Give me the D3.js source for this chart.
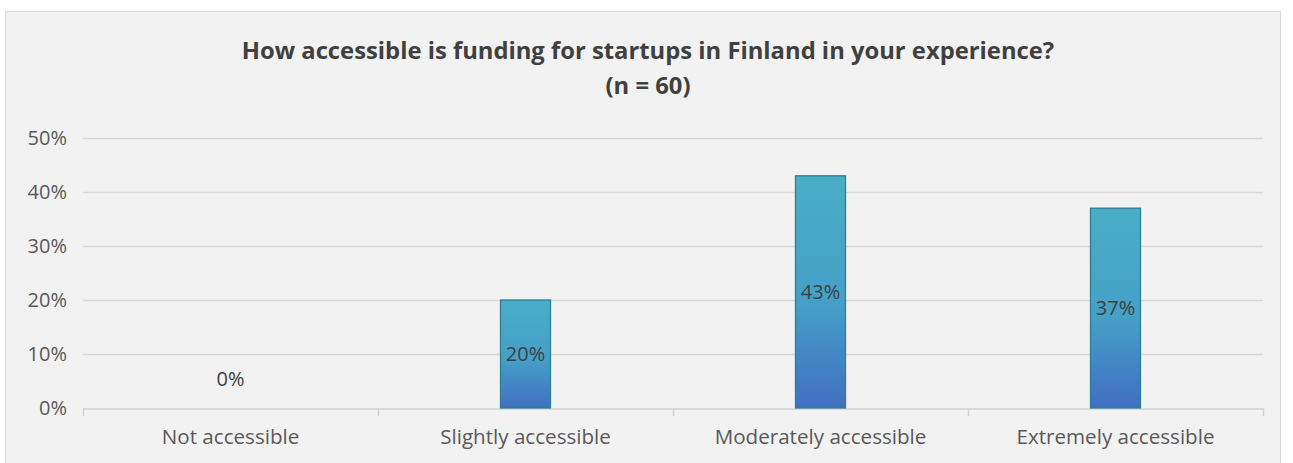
<!DOCTYPE html>
<html>
<head>
<meta charset="utf-8">
<script src="https://cdn.jsdelivr.net/npm/d3@7"></script>
<style>
	body { margin: 0; background: #fff; }
	svg text { font-family: "Open Sans", "Noto Sans", sans-serif; }
</style>
</head>
<body>
<svg id="chart" width="1293" height="463"></svg>
<script>
const categories = ['Not accessible', 'Slightly accessible', 'Moderately accessible', 'Extremely accessible'];
const values = [0, 20, 43, 37];
const yTicks = [0, 10, 20, 30, 40, 50];
const titleLines = ['How accessible is funding for startups in Finland in your experience?', '(n = 60)'];

const svg = d3.select('#chart');

// chart frame
svg.append('rect')
	.attr('x', 5.5).attr('y', 11.5)
	.attr('width', 1275).attr('height', 470)
	.attr('fill', '#f2f2f2')
	.attr('stroke', '#d9d9d9');

const plotLeft = 83, plotRight = 1263, plotTop = 138, plotBottom = 408;

const x = d3.scaleBand().domain(categories).range([plotLeft, plotRight]);
const y = d3.scaleLinear().domain([0, 50]).range([plotBottom, plotTop]);

const defs = svg.append('defs');
const grad = defs.append('linearGradient')
	.attr('id', 'barGrad')
	.attr('x1', 0).attr('y1', 0).attr('x2', 0).attr('y2', 1);
grad.append('stop').attr('offset', '0%').attr('stop-color', '#4aaec7');
grad.append('stop').attr('offset', '55%').attr('stop-color', '#459fc6');
grad.append('stop').attr('offset', '100%').attr('stop-color', '#416fc3');

// title
svg.append('g')
	.selectAll('text')
	.data(titleLines)
	.enter()
	.append('text')
	.attr('x', 648)
	.attr('y', (d, i) => 59 + i * 35)
	.attr('text-anchor', 'middle')
	.attr('font-size', 23.8)
	.attr('font-weight', 'bold')
	.attr('fill', '#404040')
	.text(d => d);

// gridlines
svg.append('g')
	.selectAll('line')
	.data(yTicks.filter(t => t > 0))
	.enter()
	.append('line')
	.attr('x1', plotLeft).attr('x2', plotRight)
	.attr('y1', d => Math.round(y(d)) + 0.5)
	.attr('y2', d => Math.round(y(d)) + 0.5)
	.attr('stroke', '#d9d9d9')
	.attr('stroke-width', 1.3);

// y axis labels
const yAxis = svg.append('g')
	.attr('transform', `translate(${plotLeft},0)`)
	.call(d3.axisLeft(y).tickValues(yTicks).tickFormat(d => d + '%').tickSize(0).tickPadding(16));
yAxis.select('.domain').remove();
yAxis.selectAll('text')
	.attr('font-family', '"Open Sans", sans-serif')
	.attr('font-size', 20)
	.attr('fill', '#595959');

// x axis
const xAxis = svg.append('g')
	.attr('transform', `translate(0,${plotBottom + 0.5})`)
	.call(d3.axisBottom(x).tickSize(0).tickPadding(21));
xAxis.select('.domain').attr('stroke', '#d0d0d0').attr('stroke-width', 1.5);
xAxis.selectAll('text')
	.attr('font-family', '"Open Sans", sans-serif')
	.attr('font-size', 20.6)
	.attr('fill', '#595959');

// category separator ticks
const bounds = categories.map(c => x(c)).concat([x.range()[1]]);
svg.append('g')
	.selectAll('line')
	.data(bounds)
	.enter()
	.append('line')
	.attr('x1', d => Math.round(d) + 0.5).attr('x2', d => Math.round(d) + 0.5)
	.attr('y1', plotBottom).attr('y2', plotBottom + 8)
	.attr('stroke', '#d0d0d0')
	.attr('stroke-width', 1.5);

// bars
const barW = 50;
const bars = svg.append('g')
	.selectAll('g')
	.data(categories.map((c, i) => ({ c, v: values[i] })))
	.enter()
	.append('g');

bars.filter(d => d.v > 0)
	.append('rect')
	.attr('x', d => x(d.c) + x.bandwidth() / 2 - barW / 2)
	.attr('y', d => y(d.v))
	.attr('width', barW)
	.attr('height', d => plotBottom - y(d.v))
	.attr('fill', 'url(#barGrad)')
	.attr('stroke', '#2f7d93')
	.attr('stroke-width', 1.3);

// data labels
bars.append('text')
	.attr('x', d => x(d.c) + x.bandwidth() / 2)
	.attr('y', d => d.v > 0 ? (y(d.v) + plotBottom) / 2 + 7 : plotBottom - 22)
	.attr('text-anchor', 'middle')
	.attr('font-size', 20)
	.attr('fill', '#404040')
	.text(d => d.v + '%');
</script>
</body>
</html>
